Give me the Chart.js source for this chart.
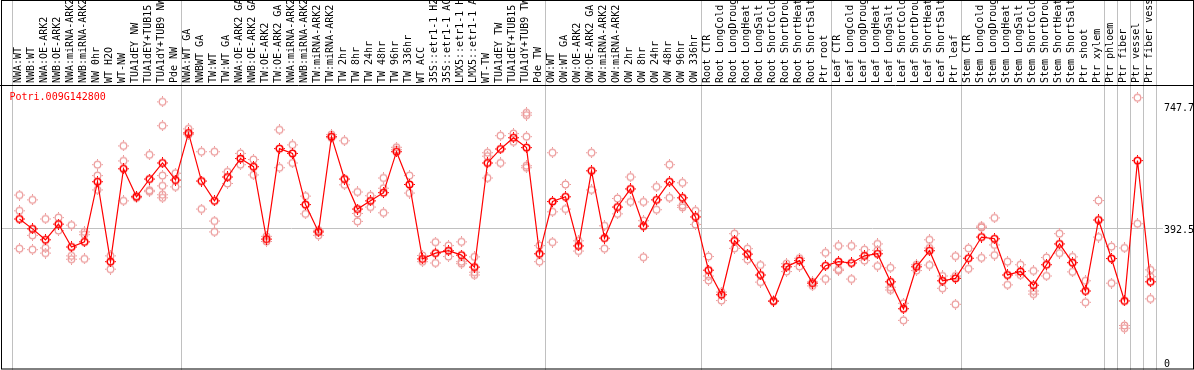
<!DOCTYPE html>
<html>
<head>
<meta charset="utf-8">
<script src="https://cdn.jsdelivr.net/npm/chart.js@4.4.1/dist/chart.umd.min.js"></script>
<style>
  html, body { margin: 0; padding: 0; background: #fff; }
  #wrap { width: 1194px; height: 370px; position: relative; }
</style>
</head>
<body>
<div id="wrap"><canvas id="expr" width="1194" height="370"></canvas></div>
<script>
const geneName = 'Potri.009G142800';

const categories = [
  'NWA:WT', 'NWB:WT', 'NWA:OE-ARK2', 'NWB:OE-ARK2', 'NWA:miRNA-ARK2', 'NWB:miRNA-ARK2',
  'NW 0hr', 'WT H2O', 'WT-NW', 'TUA1dEY NW', 'TUA1dEY+TUB15', 'TUA1dY+TUB9 NW', 'Pde NW',
  'NWA:WT GA', 'NWBWT GA', 'TW:WT', 'TW:WT GA', 'NWA:OE-ARK2 GA', 'NWB:OE-ARK2 GA',
  'TW:OE-ARK2', 'TW:OE-ARK2 GA', 'NWA:miRNA-ARK2', 'NWB:miRNA-ARK2', 'TW:miRNA-ARK2',
  'TW:miRNA-ARK2', 'TW 2hr', 'TW 8hr', 'TW 24hr', 'TW 48hr', 'TW 96hr', 'TW 336hr',
  'WT ACC', '35S::etr1-1 H2', '35S::etr1-1 AC', 'LMX5::etr1-1 H', 'LMX5::etr1-1 A',
  'WT-TW', 'TUA1dEY TW', 'TUA1dEY+TUB15', 'TUA1dY+TUB9 TW', 'Pde TW',
  'OW:WT', 'OW:WT GA', 'OW:OE-ARK2', 'OW:OE-ARK2 GA', 'OW:miRNA-ARK2', 'OW:miRNA-ARK2',
  'OW 2hr', 'OW 8hr', 'OW 24hr', 'OW 48hr', 'OW 96hr', 'OW 336hr',
  'Root CTR', 'Root LongCold', 'Root LongDroug', 'Root LongHeat', 'Root LongSalt',
  'Root ShortCold', 'Root ShortDrou', 'Root ShortHeat', 'Root ShortSalt', 'Ptr root',
  'Leaf CTR', 'Leaf LongCold', 'Leaf LongDroug', 'Leaf LongHeat', 'Leaf LongSalt',
  'Leaf ShortCold', 'Leaf ShortDrou', 'Leaf ShortHeat', 'Leaf ShortSalt', 'Ptr leaf',
  'Stem CTR', 'Stem LongCold', 'Stem LongDroug', 'Stem LongHeat', 'Stem LongSalt',
  'Stem ShortCold', 'Stem ShortDrou', 'Stem ShortHeat', 'Stem ShortSalt', 'Ptr shoot',
  'Ptr xylem', 'Ptr phloem', 'Ptr fiber', 'Ptr vessel', 'Ptr fiber vess'
];

// mean expression per sample
const meanValues = [
  419, 390, 358, 404, 337, 352, 528, 294, 566, 484, 536, 583, 533,
  671, 530, 472, 542, 596, 572, 360, 625, 611, 461, 381, 660, 536, 448, 472, 496, 616, 520,
  302, 319, 326, 313, 278, 583, 624, 657, 628, 317,
  470, 484, 340, 560, 363, 454, 507, 398, 475, 528, 481, 425,
  269, 197, 355, 316, 255, 178, 279, 297, 231, 282,
  294, 290, 311, 317, 235, 156, 279, 326, 238, 245,
  304, 366, 361, 255, 265, 225, 285, 346, 291, 208, 416,
  303, 179, 590, 235
];

// individual replicates
const replicateValues = [
  [489, 443, 332], [475, 371, 329], [419, 334, 319], [423, 385], [401, 311, 301], [381, 373, 302],
  [578, 546, 504], [311, 272], [633, 589, 472], [486, 481], [607, 503, 499],
  [762, 692, 546, 516, 490, 481], [553, 513],
  [683, 666], [616, 448], [616, 413, 381], [557, 523], [611, 578], [593, 548], [368, 353],
  [680, 569], [636, 583], [486, 434], [386, 371], [666, 657], [648, 519], [498, 435, 412],
  [487, 454], [539, 509, 437], [629, 622], [546, 495],
  [312, 294], [351, 290], [341, 309], [352, 294, 288], [308, 263, 255], [613, 603, 539],
  [663, 583], [669, 645], [730, 723, 660, 575, 569], [341, 294],
  [613, 440, 351], [520, 448], [355, 325], [613, 504], [399, 332], [479, 434], [542, 469],
  [469, 414, 307], [513, 446], [578, 481], [525, 459, 453], [443, 403],
  [309, 252, 239], [205, 180], [376, 333], [332, 300], [284, 234], [180], [288, 265],
  [304, 280], [235, 223], [320, 243],
  [340, 272, 268], [340, 243], [329, 297], [346, 327, 281], [276, 219, 211], [172, 122],
  [285, 268], [358, 334, 284], [252, 216], [310, 252, 169],
  [333, 273], [398, 394, 305], [422, 343, 313], [294, 226], [285, 255], [267, 208, 199],
  [306, 252], [376, 319], [308, 264], [238, 175], [473, 366],
  [338, 231], [334, 107, 99], [774, 405], [270, 250, 185]
];

// index of the first sample of each block (last one closes the plot)
const groupStarts = [0, 13, 41, 53, 63, 73, 84, 85, 86, 87, 88];
const yTicks = [0, 392.5, 747.7];

const MONO = '10px "DejaVu Sans Mono", monospace';

function makeMarker(color, lw) {
  const c = document.createElement('canvas');
  c.width = 11;
  c.height = 11;
  const g = c.getContext('2d');
  g.strokeStyle = color;
  g.fillStyle = color;
  g.lineWidth = lw;
  g.beginPath();
  g.arc(5.5, 5.5, 3.3, 0, Math.PI * 2);
  g.stroke();
  g.fillRect(5, 0, 1, 1.5);
  g.fillRect(5, 9.5, 1, 1.5);
  g.fillRect(0, 5, 1.5, 1);
  g.fillRect(9.5, 5, 1.5, 1);
  return c;
}

const mainMarker = makeMarker('#ff0000', 1.6);
const repMarker = makeMarker('#ec9a9a', 1.2);

const repPoints = [];
replicateValues.forEach(function (vals, i) {
  vals.forEach(function (v) { repPoints.push({ x: i, y: v }); });
});
const meanPoints = meanValues.map(function (v, i) { return { x: i, y: v }; });

const decorations = {
  id: 'decorations',
  beforeDatasetsDraw(chart) {
    const ctx = chart.ctx;
    const xs = chart.scales.x, ys = chart.scales.y;
    ctx.save();
    ctx.strokeStyle = '#c0c0c0';
    ctx.lineWidth = 1;
    // block separators
    groupStarts.forEach(function (i) {
      const px = Math.round(xs.getPixelForValue(i) - 8) + 0.5;
      ctx.beginPath();
      ctx.moveTo(px, 0);
      ctx.lineTo(px, 370);
      ctx.stroke();
    });
    // middle reference line
    const gy = Math.round(ys.getPixelForValue(yTicks[1])) + 0.5;
    ctx.beginPath();
    ctx.moveTo(1, gy);
    ctx.lineTo(1163, gy);
    ctx.stroke();
    ctx.restore();
  },
  afterDraw(chart) {
    const ctx = chart.ctx;
    const xs = chart.scales.x, ys = chart.scales.y;
    ctx.save();
    ctx.font = MONO;
    ctx.fillStyle = '#000';

    // sample names, rotated, clipped to the header strip
    ctx.save();
    ctx.beginPath();
    ctx.rect(0, 0, 1194, 85);
    ctx.clip();
    ctx.textAlign = 'left';
    ctx.textBaseline = 'alphabetic';
    categories.forEach(function (name, i) {
      ctx.save();
      ctx.translate(xs.getPixelForValue(i) + 1.5, 83);
      ctx.rotate(-Math.PI / 2);
      ctx.fillText(name, 0, 0);
      ctx.restore();
    });
    ctx.restore();

    // value labels on the right
    ctx.textBaseline = 'middle';
    yTicks.forEach(function (v) {
      ctx.fillText(String(v), 1164, ys.getPixelForValue(v) + 2);
    });

    ctx.fillStyle = '#ff0000';
    ctx.fillText(geneName, 9.5, 97);

    // frame
    ctx.strokeStyle = '#000';
    ctx.lineWidth = 1;
    ctx.strokeRect(1.5, 0.5, 1192, 368.5);
    ctx.beginPath();
    ctx.moveTo(0, 85.5);
    ctx.lineTo(1194, 85.5);
    ctx.stroke();
    ctx.restore();
  }
};

new Chart(document.getElementById('expr'), {
  type: 'line',
  data: {
    datasets: [
      {
        label: 'mean',
        data: meanPoints,
        borderColor: '#ff0000',
        borderWidth: 1.2,
        tension: 0,
        pointStyle: mainMarker,
        clip: false,
        order: 0
      },
      {
        label: 'replicates',
        data: repPoints,
        showLine: false,
        pointStyle: repMarker,
        clip: false,
        order: 1
      }
    ]
  },
  options: {
    responsive: false,
    animation: false,
    events: [],
    layout: { autoPadding: false, padding: { left: 19.5, right: 43.5, top: 86, bottom: 0 } },
    scales: {
      x: { type: 'linear', min: 0, max: 87, display: false },
      y: { type: 'linear', min: -23.4, max: 808.4, display: false }
    },
    plugins: {
      legend: { display: false },
      tooltip: { enabled: false }
    }
  },
  plugins: [decorations]
});
</script>
</body>
</html>
